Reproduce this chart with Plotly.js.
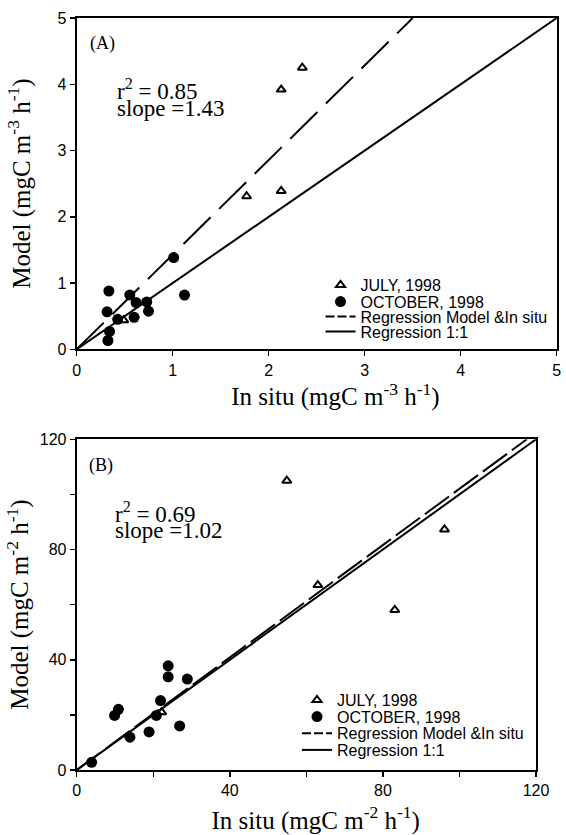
<!DOCTYPE html>
<html><head><meta charset="utf-8">
<script src="https://cdn.plot.ly/plotly-3.0.1.min.js"></script>
<style>html,body{margin:0;padding:0;background:#fff}</style>
</head><body><div id="chart" style="width:566px;height:835px"></div>
<script>
// ---- Panel A (mgC m-3 h-1) ----
const julyA_x = [2.35, 2.13, 1.77, 2.13, 0.49];
const julyA_y = [4.25, 3.92, 2.31, 2.39, 0.44];
const octA_x = [1.01, 0.335, 0.553, 0.619, 0.73, 1.123, 0.316, 0.748, 0.598, 0.427, 0.342, 0.325];
const octA_y = [1.385, 0.88, 0.82, 0.705, 0.715, 0.818, 0.565, 0.575, 0.482, 0.452, 0.27, 0.133];
const regA_x = [0, 3.5];      // regression, slope 1.43
const regA_y = [0, 5.0];
const oneA_x = [0, 5];
const oneA_y = [0, 5];
const statsA = ['r<sup>2</sup> = 0.85', 'slope =1.43'];

// ---- Panel B (mgC m-2 h-1) ----
const julyB_x = [54.9, 96.1, 63.0, 83.1, 22.2];
const julyB_y = [105.0, 87.3, 67.1, 58.1, 21.0];
const octB_x = [3.9, 9.9, 10.9, 13.9, 18.9, 20.8, 21.9, 23.9, 23.9, 28.9, 26.9];
const octB_y = [2.8, 19.8, 22.0, 11.9, 13.8, 19.8, 25.2, 37.8, 33.8, 33.0, 16.0];
const regB_x = [0, 117.6];    // regression, slope 1.02
const regB_y = [0, 120];
const oneB_x = [0, 120];
const oneB_y = [0, 120];
const statsB = ['r<sup>2</sup> = 0.69', 'slope =1.02'];

const names = ['JULY, 1998', 'OCTOBER, 1998', 'Regression Model &In situ', 'Regression 1:1'];

const W = 566, H = 835;
const SANS = 'Liberation Sans, Arial, sans-serif';
const SERIF = 'Liberation Serif, Times New Roman, serif';
// invisible left padding, used to nudge the centred x titles to the right
function pad(n) { return '<span>' + '\u00a0'.repeat(n) + '</span>'; }

function panelTraces(xa, ya, jx, jy, ox, oy, rx, ry, lx, ly, dash, legs) {
  return [
    {x: rx, y: ry, xaxis: xa, yaxis: ya, mode: 'lines', showlegend: false,
     line: {color: '#000', width: 2, dash: dash}},
    {x: lx, y: ly, xaxis: xa, yaxis: ya, mode: 'lines', showlegend: false,
     line: {color: '#000', width: 2}},
    {x: jx, y: jy, xaxis: xa, yaxis: ya, mode: 'markers', name: names[0], legend: legs[0],
     marker: {symbol: 'triangle-up-open', size: 8, color: '#000', line: {width: 2, color: '#000'}}},
    {x: ox, y: oy, xaxis: xa, yaxis: ya, mode: 'markers', name: names[1], legend: legs[1],
     marker: {symbol: 'circle', size: 11, color: '#000'}},
    // legend keys for the two lines
    {x: [null], y: [null], xaxis: xa, yaxis: ya, mode: 'lines', name: names[2], legend: legs[2],
     line: {color: '#000', width: 2, dash: '9px,3px'}},
    {x: [null], y: [null], xaxis: xa, yaxis: ya, mode: 'lines', name: names[3], legend: legs[3],
     line: {color: '#000', width: 2}}
  ];
}

const data = [].concat(
  panelTraces('x', 'y', julyA_x, julyA_y, octA_x, octA_y, regA_x, regA_y, oneA_x, oneA_y, '38px,12px',
              ['legend', 'legend2', 'legend3', 'legend4']),
  panelTraces('x2', 'y2', julyB_x, julyB_y, octB_x, octB_y, regB_x, regB_y, oneB_x, oneB_y, '30px,6px',
              ['legend5', 'legend6', 'legend7', 'legend8'])
);

function leg(xpx, ypx) {
  return {x: xpx / W, y: 1 - ypx / H, xanchor: 'left', yanchor: 'middle', xref: 'paper', yref: 'paper',
          bgcolor: 'rgba(0,0,0,0)', borderwidth: 0,
          font: {family: SANS, size: 16, color: '#000'}};
}

function axis(domain, range, dtick, anchor, title, standoff, extra) {
  return Object.assign({
    domain: domain, range: range, dtick: dtick, anchor: anchor,
    ticks: 'outside', ticklen: 5, tickwidth: 1.5, tickcolor: '#000',
    showline: true, linewidth: 2, linecolor: '#000', mirror: true,
    showgrid: false, zeroline: false, fixedrange: true,
    tickfont: {family: SANS, size: 16, color: '#000'},
    title: {text: title, standoff: standoff, font: {family: SERIF, size: 25, color: '#000'}}
  }, extra || {});
}
const minorB = {minor: {dtick: 20, ticks: 'outside', ticklen: 5, tickwidth: 1.5, tickcolor: '#000'}};

function ann(xr, yr, x, y, text, size) {
  return {xref: xr, yref: yr, x: x, y: y, xanchor: 'left', yanchor: 'middle', showarrow: false,
          text: text, font: {family: SERIF, size: size, color: '#000'}};
}

const layout = {
  width: W, height: H, margin: {l: 0, r: 0, t: 0, b: 0},
  paper_bgcolor: '#fff', plot_bgcolor: '#fff',
  xaxis: axis([76.7 / W, 556.7 / W], [0, 5], 1, 'y',
              pad(6) + 'In situ (mgC m<sup>-3</sup> h<sup>-1</sup>)', 6),
  yaxis: axis([1 - 349.3 / H, 1 - 18 / H], [0, 5], 1, 'x', 'Model (mgC m<sup>-3</sup> h<sup>-1</sup>)', 20),
  xaxis2: axis([76.7 / W, 536 / W], [0, 120], 40, 'y2',
               pad(3) + 'In situ (mgC m<sup>-2</sup> h<sup>-1</sup>)', 15, minorB),
  yaxis2: axis([1 - 770 / H, 1 - 439.3 / H], [0, 120], 40, 'x2', 'Model (mgC m<sup>-2</sup> h<sup>-1</sup>)', 4, minorB),
  legend: leg(320.5, 285), legend2: leg(320.5, 301.7), legend3: leg(320.5, 316.7), legend4: leg(320.5, 331.7),
  legend5: leg(297, 700), legend6: leg(297, 716.7), legend7: leg(297, 733.3), legend8: leg(297, 750),
  annotations: [
    ann('x domain', 'y domain', 0.0235, 0.9245, '(A)', 18),
    ann('x domain', 'y domain', 0.08, 0.7827, statsA[0], 23),
    ann('x domain', 'y domain', 0.08, 0.728, statsA[1], 23),
    ann('x2 domain', 'y2 domain', 0.0224, 0.922, '(B)', 18),
    ann('x2 domain', 'y2 domain', 0.0797, 0.7787, statsB[0], 23),
    ann('x2 domain', 'y2 domain', 0.0797, 0.724, statsB[1], 23)
  ],
  showlegend: true
};

Plotly.newPlot('chart', data, layout, {displayModeBar: false, staticPlot: true});
</script></body></html>
